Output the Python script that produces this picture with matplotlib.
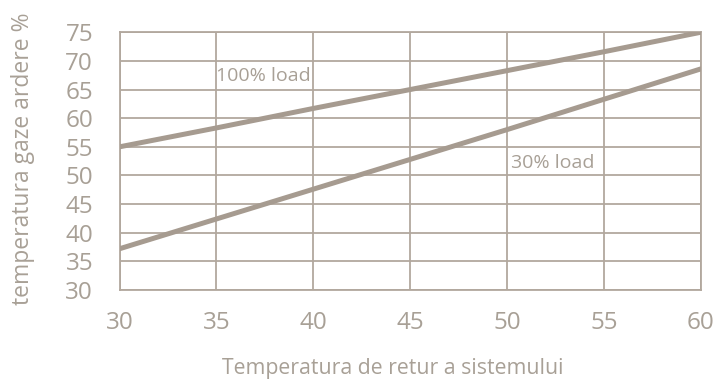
import matplotlib.pyplot as plt

# return temperature (x) and flue gas temperature (y)
temp_retur = [30, 35, 40, 45, 50, 55, 60]
load_100 = [55.0, 58.3, 61.7, 65.0, 68.3, 71.6, 75.0]
load_30 = [37.2, 42.4, 47.6, 52.8, 58.0, 63.3, 68.6]

x_ticks = [30, 35, 40, 45, 50, 55, 60]
y_ticks = [30, 35, 40, 45, 50, 55, 60, 65, 70, 75]

grid_col = "#b2a89e"
line_col = "#a69b90"
text_col = "#a8a096"

plt.rcParams["font.family"] = ["Open Sans", "DejaVu Sans"]

fig = plt.figure(figsize=(7.16, 3.9), dpi=100)
ax = fig.add_axes([0.1669, 0.2564, 0.8117, 0.6608])

ax.plot(temp_retur, load_100, color=line_col, lw=3.6, solid_capstyle="round", zorder=3)
ax.plot(temp_retur, load_30, color=line_col, lw=3.6, solid_capstyle="round", zorder=3)

ax.text(35.0, 67.4, "100% load", color=text_col, fontsize=14, ha="left", va="center")
ax.text(50.2, 52.2, "30% load", color=text_col, fontsize=14, ha="left", va="center")

ax.set_xlim(30, 60)
ax.set_ylim(30, 75)
ax.set_xticks(x_ticks)
ax.set_yticks(y_ticks)
ax.grid(True, color=grid_col, lw=1.3)
ax.set_axisbelow(True)
for s in ax.spines.values():
    s.set_color(grid_col)
    s.set_linewidth(1.3)
ax.tick_params(length=0, labelsize=17.5, labelcolor=text_col)
ax.tick_params(axis="x", pad=15)
ax.tick_params(axis="y", pad=19)

ax.set_xlabel("Temperatura de retur a sistemului", color=text_col, fontsize=15.3,
              va="baseline")
ax.xaxis.set_label_coords((393 - 119.5) / 581.2, (290 - 374) / 257.7)
ax.set_ylabel("temperatura gaze ardere %", color=text_col, fontsize=16.5,
              va="center")
ax.yaxis.set_label_coords((23 - 119.5) / 581.2, (290 - 159) / 257.7)

fig.savefig("out.png", dpi=100)
